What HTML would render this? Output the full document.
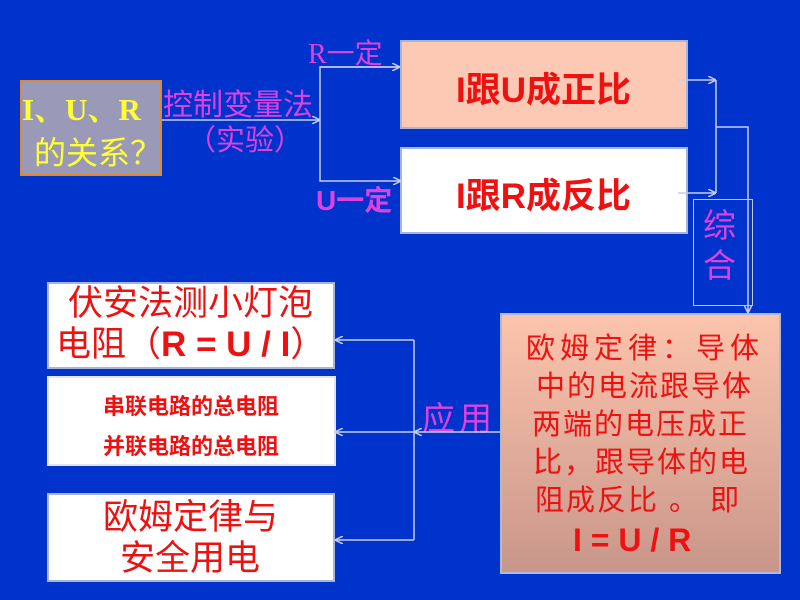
<!DOCTYPE html>
<html><head><meta charset="utf-8"><style>
body{margin:0;width:800px;height:600px;background:#0033cc;position:relative;overflow:hidden;font-family:"Liberation Sans","Noto Sans CJK SC",sans-serif}
.a{position:absolute;white-space:nowrap}
.box{position:absolute;box-sizing:border-box;border:2px solid #a9b4d8}
.m{color:#e040e0}
.r{color:#ee1111}
</style></head><body>
<div class="box" style="left:20px;top:80px;width:142px;height:96px;background:#9a9ab8;border-color:#e08a30"></div>
<div class="a" style="left:22px;top:84px;font:bold 31px 'Liberation Serif','Noto Serif CJK SC',serif;color:#ffff33">I、U、R</div>
<div class="a" style="left:34px;top:128px;font:32px 'Liberation Sans','Noto Sans CJK SC',sans-serif;color:#ffff33">的关系？</div>
<div class="a m" style="left:163px;top:80px;font-size:30px">控制变量法</div>
<div class="a m" style="left:187px;top:117px;font-size:29px">（实验）</div>
<div class="a m" style="left:308px;top:32px;font:28px 'Liberation Serif','Noto Sans CJK SC',serif">R一定</div>
<div class="a m" style="left:316px;top:179px;font:bold 28px 'Liberation Sans','Noto Sans CJK SC',sans-serif">U一定</div>

<div class="box" style="left:400px;top:40px;width:288px;height:89px;background:#fccab4"></div>
<div class="a r" style="left:456px;top:62px;font-size:35px;font-weight:bold">I跟U成正比</div>
<div class="box" style="left:400px;top:147px;width:288px;height:87px;background:#fff"></div>
<div class="a r" style="left:456px;top:168px;font-size:35px;font-weight:bold">I跟R成反比</div>

<div class="box" style="left:693px;top:199px;width:60px;height:107px;border-color:#c0c8f0;border-width:1px"></div>
<div class="a m" style="left:703px;top:206px;font-size:33px;line-height:40px">综<br>合</div>

<div class="box" style="left:500px;top:313px;width:281px;height:261px;background:linear-gradient(#fcc4ac,#c8968a);border-color:#b0b8e0"></div>
<div class="a r" style="left:526px;top:330px;font-size:29px;line-height:38px;letter-spacing:5px">欧姆定律：导体</div>
<div class="a r" style="left:536px;top:368px;font-size:29px;line-height:38px;letter-spacing:2px">中的电流跟导体</div>
<div class="a r" style="left:532px;top:406px;font-size:29px;line-height:38px;letter-spacing:2px">两端的电压成正</div>
<div class="a r" style="left:533px;top:444px;font-size:29px;line-height:38px;letter-spacing:2px">比，跟导体的电</div>
<div class="a r" style="left:535px;top:482px;font-size:29px;line-height:38px;letter-spacing:2px">阻成反比 。 即</div>
<div class="a r" style="left:573px;top:522px;font-size:32px;font-weight:bold">I = U / R</div>

<div class="box" style="left:47px;top:282px;width:288px;height:87px;background:#fff"></div>
<div class="a r" style="left:68px;top:283px;font-size:35px;line-height:42px">伏安法测小灯泡</div>
<div class="a r" style="left:56px;top:324px;font-size:35px;line-height:42px">电阻（<b style="font-family:'Liberation Sans',sans-serif">R = U / I</b>）</div>
<div class="box" style="left:47px;top:376px;width:289px;height:90px;background:#fff;border-color:#e0e4f0"></div>
<div class="a r" style="left:103px;top:389px;font-size:22px;font-weight:bold">串联电路的总电阻</div>
<div class="a r" style="left:103px;top:429px;font-size:22px;font-weight:bold">并联电路的总电阻</div>
<div class="box" style="left:47px;top:493px;width:288px;height:89px;background:#fff"></div>
<div class="a r" style="left:103px;top:497px;font-size:35px;line-height:42px">欧姆定律与</div>
<div class="a r" style="left:120px;top:538px;font-size:35px;line-height:42px">安全用电</div>
<div class="a m" style="left:422px;top:392px;font-size:33px;letter-spacing:4px">应用</div>

<svg width="800" height="600" style="position:absolute;left:0;top:0" fill="none" stroke="#c8cce8" stroke-width="1.5">
<defs><marker id="ah" markerWidth="8" markerHeight="8" refX="7" refY="4" orient="auto" markerUnits="userSpaceOnUse"><path d="M0,0 L8,4 L0,8" fill="none" stroke="#c8cce8" stroke-width="1.5"/></marker></defs>
<line x1="162" y1="120" x2="319" y2="120" marker-end="url(#ah)"/>
<polyline points="400,67 320,67 320,181 400,181" marker-end="url(#ah)"/>
<line x1="320" y1="67" x2="399" y2="67" marker-end="url(#ah)"/>
<line x1="678" y1="80" x2="715" y2="80" marker-end="url(#ah)"/>
<line x1="678" y1="193" x2="715" y2="193" marker-end="url(#ah)"/>
<line x1="716" y1="80" x2="716" y2="193"/>
<polyline points="716,127 748,127 748,312" marker-end="url(#ah)"/>
<line x1="500" y1="432" x2="415" y2="432" marker-end="url(#ah)"/>
<line x1="414" y1="340" x2="414" y2="540"/>
<line x1="414" y1="340" x2="336" y2="340" marker-end="url(#ah)"/>
<line x1="414" y1="432" x2="336" y2="432" marker-end="url(#ah)"/>
<line x1="414" y1="540" x2="336" y2="540" marker-end="url(#ah)"/>
</svg>
</body></html>
